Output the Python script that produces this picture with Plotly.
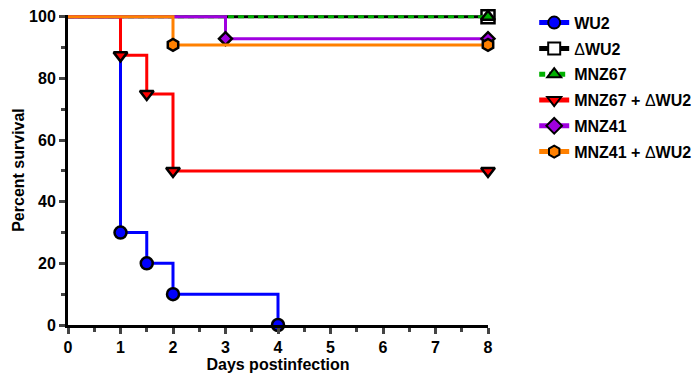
import plotly.graph_objects as go

names = ["<b>WU2</b>", "Δ<b>WU2</b>", "<b>MNZ67</b>", "<b>MNZ67 + </b>Δ<b>WU2</b>", "<b>MNZ41</b>", "<b>MNZ41 + </b>Δ<b>WU2</b>"]
days = [
    [0, 1, 1.5, 2, 4],
    [0, 8],
    [0, 8],
    [0, 1, 1.5, 2, 8],
    [0, 3, 8],
    [0, 2, 8],
]
survival = [
    [100, 30, 20, 10, 0],
    [100, 100],
    [100, 100],
    [100, 87.5, 75, 50, 50],
    [100, 92.9, 92.9],
    [100, 90.9, 90.9],
]
line_colors = ["#0000ff", "#000000", "#00b000", "#ff0000", "#a000e0", "#ff8000"]
fill_colors = ["#0000ff", "#ffffff", "#00b000", "#ff0000", "#a000e0", "#ff8000"]
symbols = ["circle", "square", "triangle-up", "triangle-down", "diamond", "hexagon"]
dashes = ["solid", "solid", "6px,4px", "solid", "solid", "solid"]
sizes = [12, 13, 12, 12, 10, 12]

fig = go.Figure()
for i in range(len(names)):
    n = len(days[i])
    fig.add_trace(go.Scatter(
        x=days[i], y=survival[i], name=names[i], legendgroup=str(i),
        mode="lines+markers", line_shape="hv",
        line=dict(color=line_colors[i], width=3, dash=dashes[i]),
        marker=dict(symbol=symbols[i], color=fill_colors[i], size=[0] + [sizes[i]] * (n - 1),
                    opacity=1, line=dict(color="black", width=2.5)),
        cliponaxis=False,
    ))

fig.update_layout(
    width=698, height=378,
    margin=dict(l=68, r=210, t=15, b=53, autoexpand=False),
    plot_bgcolor="white", paper_bgcolor="white",
    font=dict(family="Liberation Sans, Arial", size=14, color="black"),
    legend=dict(x=1.110, y=1.03, xanchor="left", yanchor="top", itemsizing="constant",
                font=dict(size=16), tracegroupgap=2, itemwidth=30),
    xaxis=dict(range=[0, 8], tickvals=list(range(9)), ticktext=["<b>%d</b>" % v for v in range(9)],
               showline=True, linecolor="black", linewidth=3, ticks="outside", ticklen=6, tickwidth=3,
               showgrid=False, zeroline=False, tickfont=dict(size=16), automargin=False,
               minor=dict(ticks="outside", dtick=0.5, tick0=0, ticklen=4, tickwidth=3),
               title=dict(text="<b>Days postinfection</b>", standoff=4, font=dict(size=16))),
    yaxis=dict(range=[0, 100.6], tickvals=[0, 20, 40, 60, 80, 100],
               ticktext=["<b>%d</b>" % v for v in [0, 20, 40, 60, 80, 100]],
               showline=True, linecolor="black", linewidth=3, ticks="outside", ticklen=6, tickwidth=3,
               showgrid=False, zeroline=False, tickfont=dict(size=16), automargin=True,
               minor=dict(ticks="outside", dtick=10, tick0=0, ticklen=4, tickwidth=3),
               title=dict(text="<b>Percent survival</b>", standoff=1, font=dict(size=16))),
)

fig.write_html("out.html", config={"displayModeBar": False},
               post_script="document.body.style.margin='0';")
